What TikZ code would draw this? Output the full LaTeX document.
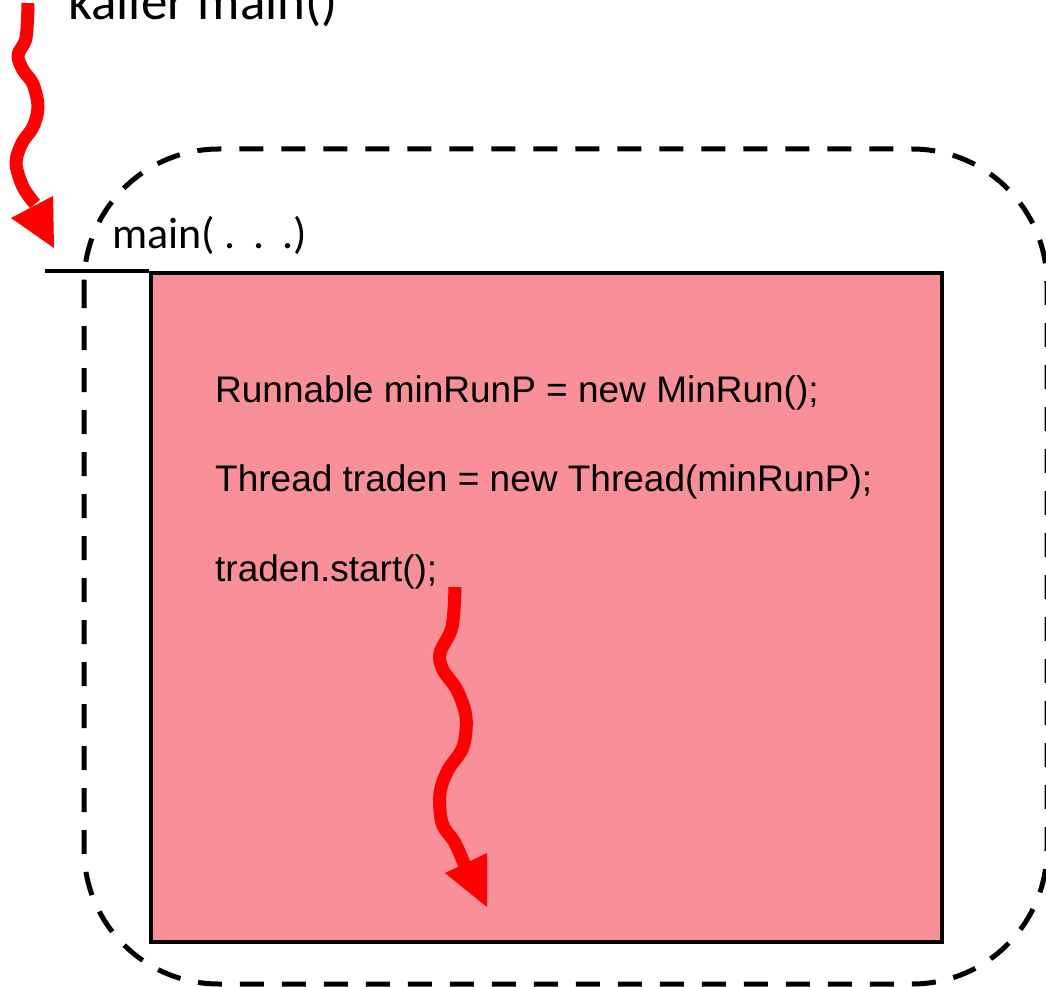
\documentclass[tikz,border=0pt]{standalone}
\usepackage{fontspec}
\setmainfont{Liberation Sans}
\newfontfamily\calfont{Carlito}
\definecolor{boxpink}{RGB}{248,143,153}
\definecolor{flowred}{RGB}{255,0,0}
\tikzset{
  codetext/.style={anchor=base west, inner sep=0pt, font=\fontsize{37}{37}\selectfont},
  flowshaft/.style={draw=flowred, line width=13pt, line join=round},
  flowhead/.style={fill=flowred, draw=none},
  scopeframe/.style={draw=black, line width=5pt, dash pattern=on 24pt off 18pt, rounded corners=135pt},
  methodbox/.style={draw=black, fill=boxpink, line width=4pt, anchor=north west, inner sep=0pt,
    minimum width=791pt, minimum height=669pt}
}
\begin{document}
\begin{tikzpicture}[x=1pt,y=-1pt]
\useasboundingbox (0,0) rectangle (1046,987);
% dashed scope frame
\draw[scopeframe] (84,149) rectangle (1047,984);
% method body
\node[methodbox] (body) at (149,271) {};
\coordinate (lineStart) at (45,271);
\draw[line width=3.5pt] (lineStart) -- (body.north west);
% labels
\node[anchor=base west, inner sep=0pt, font=\calfont\fontsize{53}{53}\selectfont] (caller) at (68,20) {kaller main()};
\node[anchor=base west, inner sep=0pt, font=\calfont\fontsize{44}{44}\selectfont] (mainlabel) at (112,248) {main( .\hspace{0.1em} .\hspace{0.1em} .)};
% code
\node[codetext] (l1) at (215,402) {Runnable minRunP = new MinRun();};
\node[codetext] (l2) at (215,491) {Thread traden = new Thread(minRunP);};
\node[codetext] (l3) at (215,581) {traden.start();};
% first flow arrow
\draw[flowshaft] plot[smooth, tension=0.55] coordinates {(28,3) (26,38) (18,55) (23,70) (33,84) (38,107) (33,127) (22,143) (16,163) (23,187) (35,204)};
\coordinate (h1a) at (11,218);
\coordinate (h1b) at (53,196);
\coordinate (h1tip) at (54,248);
\fill[flowhead] (h1a) -- (h1b) -- (h1tip) -- cycle;
% second flow arrow
\draw[flowshaft] plot[smooth, tension=0.55] coordinates {(455,587) (452,627) (440,653) (443,670) (457,690) (466,717) (463,747) (448,770) (440,793) (442,823) (455,843) (465,866)};
\coordinate (h2a) at (445,873);
\coordinate (h2b) at (487,853);
\coordinate (h2tip) at (487,907);
\fill[flowhead] (h2a) -- (h2b) -- (h2tip) -- cycle;
\end{tikzpicture}
\end{document}
